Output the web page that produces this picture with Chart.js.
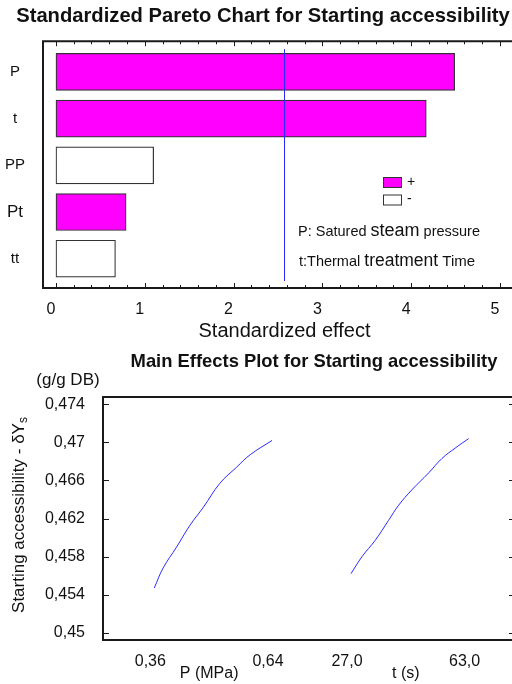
<!DOCTYPE html>
<html>
<head>
<meta charset="utf-8">
<script src="https://cdn.jsdelivr.net/npm/chart.js@4.4.1/dist/chart.umd.min.js"></script>
<style>
html, body { margin: 0; padding: 0; background: #fff; overflow: hidden; width: 512px; height: 684px; }
#pareto { position: absolute; left: 0; top: 0; }
#effects { position: absolute; left: 0; top: 345px; }
</style>
</head>
<body>
<canvas id="pareto" width="530" height="345" style="width:530px;height:345px"></canvas>
<canvas id="effects" width="530" height="339" style="width:530px;height:339px"></canvas>
<script>
// pareto data
const terms = ['P', 't', 'PP', 'Pt', 'tt']
const effects = [4.49, 4.17, 1.10, 0.79, 0.67]
const signs = ['+', '+', '-', '+', '-']
const critValue = 2.57
const effectTicks = [0, 1, 2, 3, 4, 5]
const signLabels = ['+', '-']
const noteLines = [['P: Satured ', 'steam', ' pressure'], ['t:Thermal ', 'treatment', ' Time']]

// main effects data
const pLevels = [0.36, 0.381, 0.413, 0.445, 0.477, 0.516, 0.556, 0.588, 0.64]
const pResponse = [0.4547, 0.4568, 0.4590, 0.4613, 0.4632, 0.4657, 0.4674, 0.4687, 0.4702]
const tLevels = [27, 30.4, 34.4, 38.5, 41.6, 45.6, 50.8, 54.8, 58.9, 63]
const tResponse = [0.4562, 0.4580, 0.4597, 0.4618, 0.4634, 0.4650, 0.4668, 0.4683, 0.4694, 0.4704]
const pTicks = [0.36, 0.64]
const tTicks = [27, 63]
const levelTickLabels = ['0,36', '0,64', '27,0', '63,0']
const respTicks = [0.45, 0.454, 0.458, 0.462, 0.466, 0.47, 0.474]
const respTickLabels = ['0,45', '0,454', '0,458', '0,462', '0,466', '0,47', '0,474']
const factorNames = ['P (MPa)', 't (s)']

const plus = '#ff00ff'
const frameCol = '#1a1a1a'
const lineCol = '#2a2aff'
const font = 'Liberation Sans, Arial, sans-serif'

// ---------- pareto chart ----------
let paretoDecor = {
    id: 'paretoDecor',
    afterDatasetsDraw(chart) {
        let ctx = chart.ctx
        let a = chart.chartArea
        let xs = chart.scales.x
        ctx.save()
        // critical line
        ctx.strokeStyle = lineCol
        ctx.lineWidth = 1
        let cx = Math.round(xs.getPixelForValue(critValue)) + 0.5
        ctx.beginPath()
        ctx.moveTo(cx, a.top + 8)
        ctx.lineTo(cx, a.bottom - 7)
        ctx.stroke()
        // frame
        ctx.strokeStyle = frameCol
        ctx.lineWidth = 2
        ctx.beginPath()
        ctx.moveTo(a.right, a.top)
        ctx.lineTo(a.left, a.top)
        ctx.lineTo(a.left, a.bottom)
        ctx.lineTo(a.right, a.bottom)
        ctx.stroke()
        // ticks top and bottom
        ctx.lineWidth = 1
        for (let i = 0; i <= 26; i++) {
            let v = i * 0.2
            let px = Math.round(xs.getPixelForValue(v)) + 0.5
            if (px > a.right) break
            let len = (i % 5 === 0) ? 5 : 3
            ctx.beginPath()
            ctx.moveTo(px, a.bottom)
            ctx.lineTo(px, a.bottom - len)
            ctx.moveTo(px, a.top)
            ctx.lineTo(px, a.top + len)
            ctx.stroke()
        }
        // legend
        let lx = 383, ly = 177
        signLabels.forEach((s, i) => {
            let y = ly + i * 17.5
            ctx.fillStyle = s === '+' ? plus : '#ffffff'
            ctx.fillRect(lx, y, 18, 10)
            ctx.strokeStyle = '#333'
            ctx.strokeRect(lx + 0.5, y + 0.5, 18, 10)
            ctx.fillStyle = '#111'
            ctx.font = '14px ' + font
            ctx.textBaseline = 'middle'
            ctx.fillText(s, 407, y + 5)
        })
        // notes
        let sizes = [[14.5, 18, 14.5], [14.5, 17.5, 15]]
        let baseY = [235.5, 266]
        let startX = [298, 299]
        ctx.textBaseline = 'alphabetic'
        noteLines.forEach((parts, li) => {
            let x = startX[li]
            parts.forEach((p, pi) => {
                ctx.font = sizes[li][pi] + 'px ' + font
                ctx.fillText(p, x, baseY[li])
                x += ctx.measureText(p).width
            })
        })
        ctx.restore()
    }
}

let paretoChart = new Chart(document.getElementById('pareto'), {
    type: 'bar',
    data: {
        datasets: [{
            data: effects.map((v, i) => ({x: v, y: i})),
            backgroundColor: signs.map(s => s === '+' ? plus : '#ffffff'),
            borderColor: '#333',
            borderWidth: 1.2,
            borderSkipped: false,
            barThickness: 37
        }]
    },
    options: {
        responsive: false,
        animation: false,
        indexAxis: 'y',
        layout: {padding: {left: 0, right: 4, top: 0, bottom: 0}},
        plugins: {
            legend: {display: false},
            tooltip: {enabled: false},
            title: {
                display: true,
                text: 'Standardized Pareto Chart for Starting accessibility',
                color: '#111',
                font: {family: font, size: 20.2, weight: 'bold'},
                padding: {top: 4, bottom: 13}
            }
        },
        scales: {
            x: {
                type: 'linear',
                min: -0.146,
                max: 5.293,
                grid: {display: false},
                border: {display: false},
                afterBuildTicks: (s) => { s.ticks = effectTicks.map(v => ({value: v})) },
                afterFit: (s) => { s.height = 57 },
                ticks: {color: '#111', font: {family: font, size: 16}, padding: 4, labelOffset: -5, maxRotation: 0},
                title: {display: true, text: 'Standardized effect', color: '#111', font: {family: font, size: 20}, padding: {top: 0, bottom: 2}}
            },
            y: {
                type: 'linear',
                reverse: true,
                offset: false,
                min: -0.657,
                max: 4.627,
                grid: {display: false, offset: false},
                border: {display: false},
                afterBuildTicks: (s) => { s.ticks = terms.map((t, i) => ({value: i})) },
                afterFit: (s) => { s.width = 43 },
                ticks: {
                    color: '#111',
                    crossAlign: 'center',
                    padding: 10,
                    font: (c) => ({family: font, size: terms[c.index] === 'Pt' ? 17 : 15}),
                    callback: (v) => terms[v]
                }
            }
        }
    },
    plugins: [paretoDecor]
})

// ---------- main effects chart ----------
const tStart = 1.671
function pPos(p) { return (p - pTicks[0]) / (pTicks[1] - pTicks[0]) }
function tPos(t) { return tStart + (t - tTicks[0]) / (tTicks[1] - tTicks[0]) }
const levelPos = [pPos(pTicks[0]), pPos(pTicks[1]), tPos(tTicks[0]), tPos(tTicks[1])]
const labelShift = -4

let effectsDecor = {
    id: 'effectsDecor',
    afterDraw(chart) {
        let ctx = chart.ctx
        let a = chart.chartArea
        let xs = chart.scales.x
        let ys = chart.scales.y
        ctx.save()
        ctx.strokeStyle = frameCol
        ctx.lineWidth = 2
        ctx.strokeRect(a.left, a.top, a.right - a.left, a.bottom - a.top)
        ctx.lineWidth = 1
        respTicks.forEach(v => {
            let py = Math.round(ys.getPixelForValue(v)) + 0.5
            ctx.beginPath()
            ctx.moveTo(a.left, py)
            ctx.lineTo(a.left + 6, py)
            ctx.moveTo(a.right, py)
            ctx.lineTo(a.right - 6, py)
            ctx.stroke()
        })
        ctx.fillStyle = '#111'
        ctx.textAlign = 'center'
        ctx.textBaseline = 'middle'
        ctx.font = 'bold 18.4px ' + font
        ctx.fillText('Main Effects Plot for Starting accessibility', 314, 17)
        ctx.font = '17px ' + font
        ctx.fillText('(g/g DB)', 68, 35)
        ctx.font = '16px ' + font
        let nx = [
            (xs.getPixelForValue(levelPos[0]) + xs.getPixelForValue(levelPos[1])) / 2 + labelShift,
            (xs.getPixelForValue(levelPos[2]) + xs.getPixelForValue(levelPos[3])) / 2 + labelShift
        ]
        factorNames.forEach((n, i) => ctx.fillText(n, nx[i], 329))
        // y title with subscript
        ctx.translate(19, 170)
        ctx.rotate(-Math.PI / 2)
        let main = 'Starting accessibility - \u03b4Y'
        ctx.font = '17px ' + font
        let w1 = ctx.measureText(main).width
        ctx.font = '12px ' + font
        let w2 = ctx.measureText('s').width
        let x0 = -(w1 + w2) / 2
        ctx.textAlign = 'left'
        ctx.font = '17px ' + font
        ctx.fillText(main, x0, 0)
        ctx.font = '12px ' + font
        ctx.fillText('s', x0 + w1, 5)
        ctx.restore()
    }
}

let effectsChart = new Chart(document.getElementById('effects'), {
    type: 'line',
    data: {
        datasets: [{
            data: pLevels.map((p, i) => ({x: pPos(p), y: pResponse[i]})),
            borderColor: lineCol,
            borderWidth: 1,
            pointRadius: 0,
            tension: 0.4
        }, {
            data: tLevels.map((t, i) => ({x: tPos(t), y: tResponse[i]})),
            borderColor: lineCol,
            borderWidth: 1,
            pointRadius: 0,
            tension: 0.4
        }]
    },
    options: {
        responsive: false,
        animation: false,
        layout: {padding: {left: 0, right: 15, top: 52, bottom: 0}},
        plugins: {legend: {display: false}, tooltip: {enabled: false}},
        scales: {
            x: {
                type: 'linear',
                min: -0.436,
                max: 3.065,
                grid: {display: false},
                border: {display: false},
                afterBuildTicks: (s) => { s.ticks = levelPos.map(v => ({value: v})) },
                afterFit: (s) => { s.height = 44 },
                ticks: {
                    color: '#111',
                    font: {family: font, size: 16},
                    padding: 4,
                    labelOffset: labelShift,
                    maxRotation: 0,
                    callback: (v, i) => levelTickLabels[i]
                }
            },
            y: {
                type: 'linear',
                min: 0.44923,
                max: 0.47477,
                grid: {display: false},
                border: {display: false},
                afterBuildTicks: (s) => { s.ticks = respTicks.map(v => ({value: v})) },
                afterFit: (s) => { s.width = 103 },
                ticks: {
                    color: '#111',
                    font: {family: font, size: 16},
                    padding: 10,
                    callback: (v, i) => respTickLabels[i]
                }
            }
        }
    },
    plugins: [effectsDecor]
})
</script>
</body>
</html>
